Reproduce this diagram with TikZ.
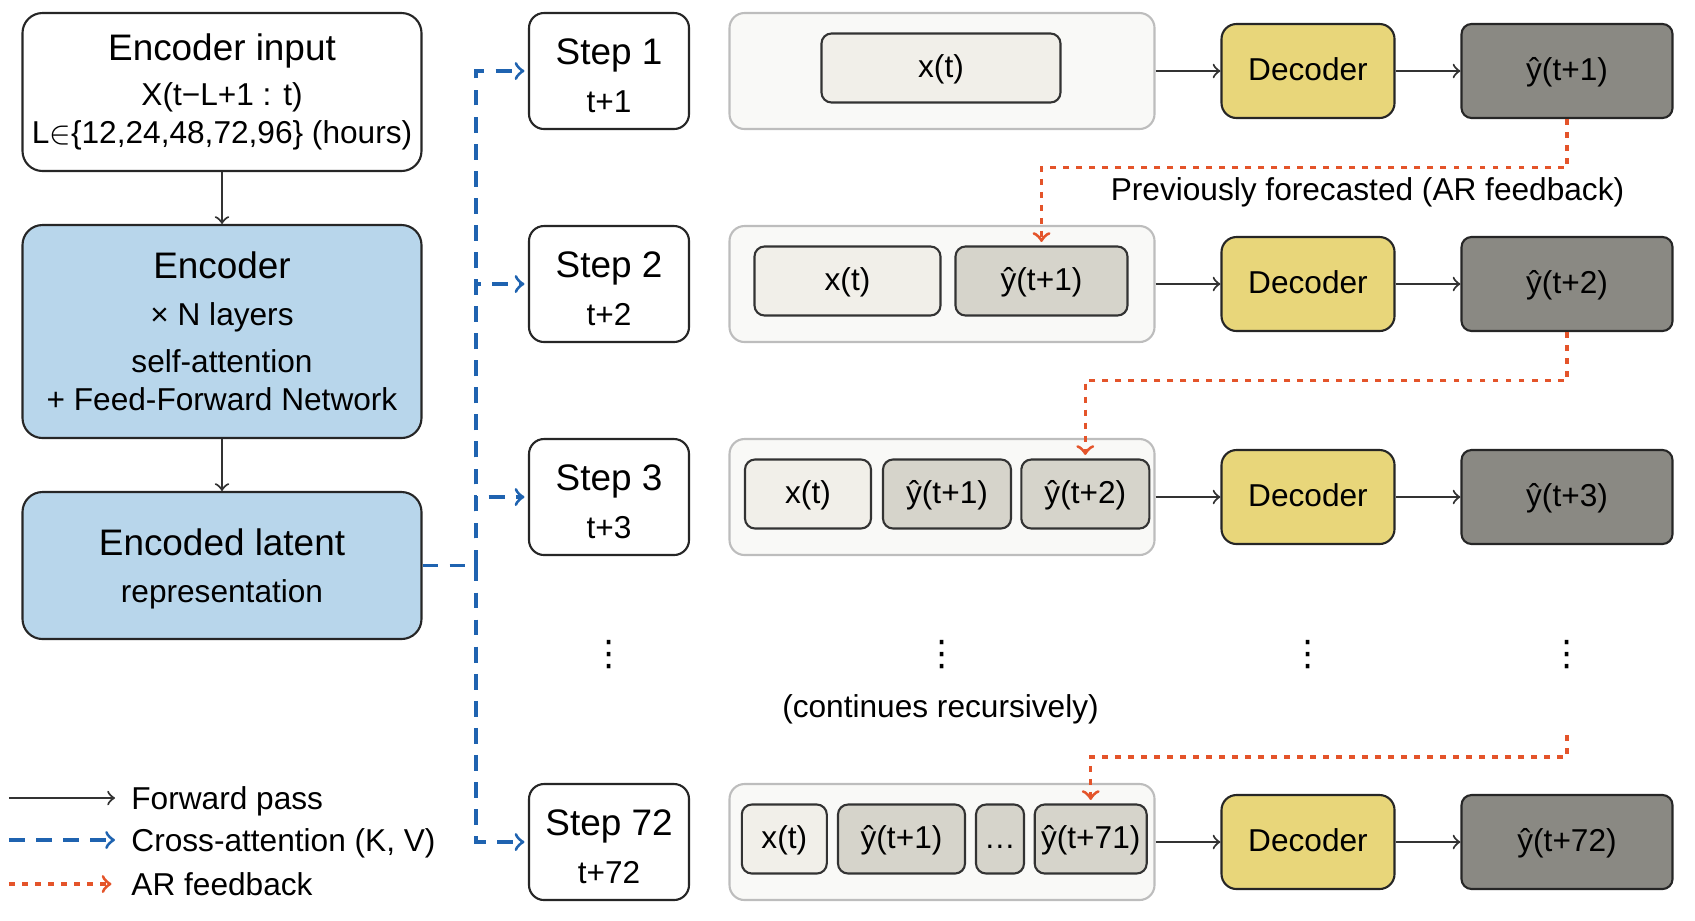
\documentclass[tikz,border=0pt]{standalone}
\usepackage{fontspec}
\setmainfont{Liberation Sans}
\newfontfamily\dejavu{DejaVu Sans}
\usetikzlibrary{positioning,calc}
\tikzset{>=to}
\definecolor{encblue}{HTML}{B8D6EB}
\definecolor{decyellow}{HTML}{E8D67A}
\definecolor{outgray}{HTML}{8A8983}
\definecolor{tokx}{HTML}{F1EFE9}
\definecolor{toky}{HTML}{D6D4CB}
\definecolor{grpfill}{HTML}{F9F9F7}
\definecolor{grpline}{HTML}{BDBDBD}
\definecolor{xblue}{HTML}{1F63B0}
\definecolor{fborange}{HTML}{E4542A}
\newcommand{\bigtxt}{\fontsize{10.5}{12.6}\selectfont}
\tikzset{
  every node/.style={font=\fontsize{9}{10.8}\selectfont},
  box/.style={draw=black!85, line width=0.6pt, align=center, inner sep=0pt},
  encbox/.style={box, fill=encblue, rounded corners=0.2cm, minimum width=3.99cm},
  stepbox/.style={box, fill=white, rounded corners=0.15cm, minimum width=1.6cm, minimum height=1.16cm},
  grp/.style={draw=grpline, fill=grpfill, line width=0.6pt, rounded corners=0.15cm, minimum width=4.25cm, minimum height=1.16cm},
  oneline/.style={text height=0.73em, text depth=0.21em},
  tok/.style={box, oneline, draw=black!80, rounded corners=0.1cm, minimum height=0.69cm},
  xtok/.style={tok, fill=tokx},
  ytok/.style={tok, fill=toky},
  dec/.style={box, oneline, fill=decyellow, rounded corners=0.15cm, minimum width=1.73cm, minimum height=0.94cm},
  outbox/.style={box, oneline, fill=outgray, rounded corners=0.1cm, minimum width=2.11cm, minimum height=0.94cm},
  lgd/.style={anchor=west, text height=1.5ex, text depth=0.3ex},
  fwd/.style={->, black!80, line width=0.6pt},
  xattn/.style={->, xblue, line width=0.9pt, dash pattern=on 4.5pt off 3.2pt},
  arfb/.style={->, fborange, line width=0.9pt, dash pattern=on 1.7pt off 2pt, shorten >=1pt}
}

\begin{document}
\begin{tikzpicture}
\useasboundingbox (0,0) rectangle (16.95,-9.2);
% encoder side
\node[encbox, fill=white, minimum height=1.58cm] (inp) at (2.22,-0.92) {{\bigtxt Encoder input}\\[2.2pt] X(t−L+1 : t)\\ L$\in$\{12,24,48,72,96\} (hours)};
\node[encbox, minimum height=2.13cm] (enc) at (2.22,-3.315) {{\bigtxt Encoder}\\[2.5pt] × N layers\\[2.7pt] self-attention\\ + Feed-Forward Network};
\node[encbox, minimum height=1.47cm] (lat) at (2.22,-5.655) {{\bigtxt\rule{0pt}{9.5pt}Encoded latent}\\[2.5pt] representation};
\draw[fwd] (inp.south) -- (enc.north);
\draw[fwd] (enc.south) -- (lat.north);

% decoding steps
\foreach \n/\y [count=\k] in {1/-0.71, 2/-2.84, 3/-4.97, 72/-8.42} {
  \node[stepbox] (s\k) at (6.09,\y) {{\bigtxt\rule{0pt}{10pt}Step \n}\\[3pt] t+\n};
  \node[grp] (c\k) at (9.42,\y) {};
  \node[dec] (d\k) at (13.08,\y) {Decoder};
  \node[outbox] (o\k) at (15.67,\y) {ŷ(t+\n)};
  \draw[fwd] (c\k.east) -- (d\k.west);
  \draw[fwd] (d\k.east) -- (o\k.west);
}

% decoder inputs
\node[xtok, minimum width=2.39cm] (x1) at (9.41,-0.68) {x(t)};
\node[xtok, minimum width=1.86cm] (x2) at (8.475,-2.81) {x(t)};
\node[ytok, minimum width=1.72cm] (y21) at (10.415,-2.81) {ŷ(t+1)};
\node[xtok, minimum width=1.26cm] (x3) at (8.08,-4.94) {x(t)};
\node[ytok, minimum width=1.28cm] (y31) at (9.47,-4.94) {ŷ(t+1)};
\node[ytok, minimum width=1.28cm] (y32) at (10.853,-4.94) {ŷ(t+2)};
\node[xtok, minimum width=0.85cm] (x4) at (7.843,-8.39) {x(t)};
\node[ytok, minimum width=1.27cm] (y41) at (9.015,-8.39) {ŷ(t+1)};
\node[ytok, minimum width=0.48cm] (gap4) at (10.0,-8.39) {…};
\node[ytok, minimum width=1.12cm] (y471) at (10.907,-8.39) {ŷ(t+71)};

% cross-attention
\coordinate (bus) at (4.76,-5.655);
\draw[xattn, -] (lat.east) -- (bus);
\foreach \k in {1,...,4}
  \draw[xattn] (bus) |- ([xshift=-1pt]s\k.west);

% AR feedback
\draw[arfb] (o1.south) -- ++(0,-0.485) -| (y21.north);
\draw[arfb] (o2.south) -- ++(0,-0.485) -| (y32.north);
\coordinate (fb) at (15.67,-7.35);
\draw[arfb] (fb) -- ++(0,-0.22) -| (y471.north);
\node (prev) at (13.675,-1.92) {Previously forecasted (AR feedback)};

\foreach \x [count=\k] in {6.09,9.42,13.08,15.67}
  \node[inner sep=0pt, font=\dejavu\fontsize{10}{12}\selectfont] (vd\k) at (\x,-6.55) {⋮};
\node (cont) at (9.405,-7.09) {(continues recursively)};

% legend
\node[lgd] (lg1) at (1.19,-7.98) {Forward pass};
\node[lgd] (lg2) at (1.19,-8.40) {Cross-attention (K, V)};
\node[lgd] (lg3) at (1.19,-8.84) {AR feedback};
\draw[fwd] ([xshift=-1.10cm]lg1.west) -- ([xshift=-0.04cm]lg1.west);
\draw[xattn] ([xshift=-1.10cm]lg2.west) -- ([xshift=-0.04cm]lg2.west);
\draw[arfb] ([xshift=-1.10cm]lg3.west) -- ([xshift=-0.04cm]lg3.west);
\end{tikzpicture}
\end{document}
